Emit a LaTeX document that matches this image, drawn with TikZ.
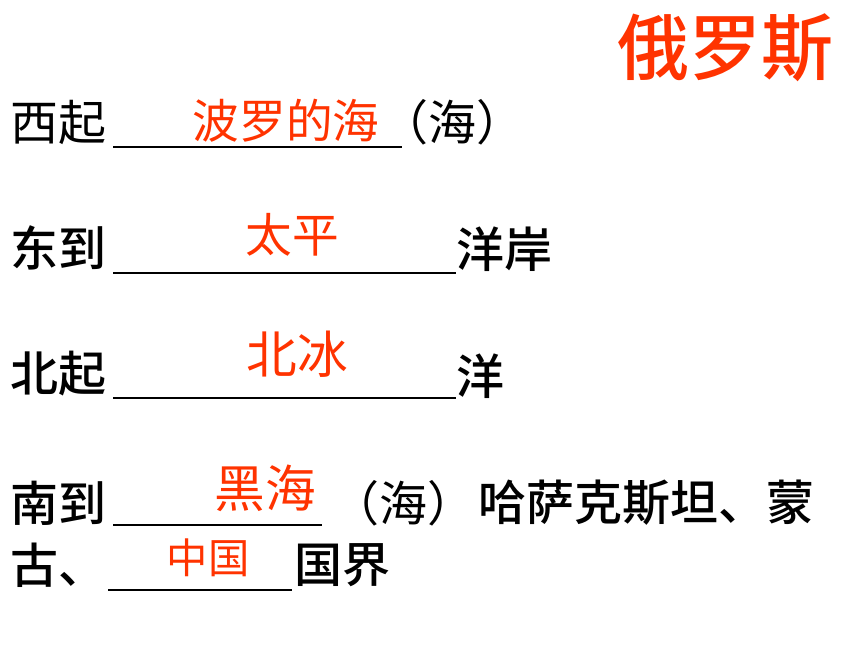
\documentclass[tikz,border=0pt]{standalone}
\usepackage{fontspec}
\usepackage{xcolor}
\usetikzlibrary{positioning}
\newfontfamily\cjk[BoldFont={Noto Sans CJK SC Medium}]{Noto Sans CJK SC}
\definecolor{answer-red}{RGB}{255, 51, 0}

\begin{document}
\begin{tikzpicture}[x=0.75pt,y=-0.75pt,
    prompt/.style={font=\cjk\bfseries\fontsize{36}{36}\selectfont, inner sep=0pt, anchor=west},
    plain/.style={font=\cjk\fontsize{36}{36}\selectfont, inner sep=0pt, anchor=west},
    answer/.style={text=answer-red, font=\cjk\fontsize{#1}{#1}\selectfont, inner sep=0pt},
    blank/.style={line width=1.9pt}]
\useasboundingbox (0,0) rectangle (860,645);
\node[text=answer-red, font=\cjk\bfseries\fontsize{54}{54}\selectfont, inner sep=0pt] (title) at (725,48) {俄罗斯};
% west
\node[plain] (xiqi) at (10,122) {西起};
\node[plain] (haiA) at (380,122) {（海）};
\node[answer=35] (boluodehai) at (286,121) {波罗的海};
\draw[blank] (113,147) -- (402,147);
% east
\node[prompt] (dongdao) at (10,248) {东到};
\node[prompt] (yangan) at (456,249) {洋岸};
\node[answer=35] (taiping) at (292,235) {太平};
\draw[blank] (113,273) -- (456,273);
% north
\node[prompt] (beiqi) at (10,374) {北起};
\node[prompt] (yang) at (456,376) {洋};
\node[answer=38] (beibing) at (297,354) {北冰};
\draw[blank] (113,398) -- (456,398);
% south
\node[prompt] (nandao) at (10,503) {南到};
\node[plain] (haiB) at (331,503) {（海）};
\node[prompt] (hasake) at (478,503) {哈萨克斯坦、蒙};
\node[answer=38] (heihai) at (265,488) {黑海};
\draw[blank] (113,525) -- (322,525);
\node[prompt] (gu) at (10,565) {古、};
\node[prompt] (guojie) at (294,565) {国界};
\node[answer=31] (zhongguo) at (208,558) {中国};
\draw[blank] (108,590) -- (292,590);
\end{tikzpicture}
\end{document}
